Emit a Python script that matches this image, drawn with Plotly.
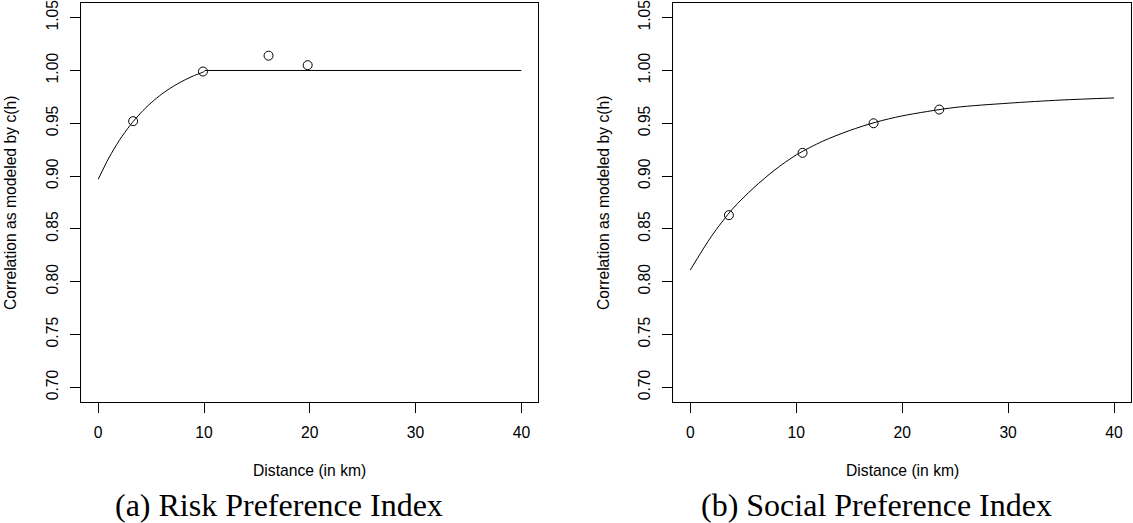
import plotly.graph_objects as go

W, H = 1133, 523

# ---- data ----
risk_curve_x = [0, 1, 2, 3, 4, 5, 6, 7, 8, 9, 10, 10.1]
risk_curve_y = [0.8970, 0.9171, 0.9339, 0.9479, 0.9596, 0.9694, 0.9776, 0.9844, 0.9901, 0.9949, 0.9989, 1.0000]
risk_plateau_x = [10.1, 40]
risk_plateau_y = [1.0, 1.0]
risk_pts_x = [3.3, 9.9, 16.1, 19.8]
risk_pts_y = [0.952, 0.999, 1.014, 1.005]

social_curve_x = [0, 2, 4, 6, 8, 10, 12.5, 15, 17.5, 20, 25, 30, 35, 40]
social_curve_y = [0.811, 0.843, 0.869, 0.889, 0.906, 0.920, 0.933, 0.943, 0.951, 0.957, 0.965, 0.969, 0.972, 0.974]
social_pts_x = [3.65, 10.6, 17.3, 23.5]
social_pts_y = [0.863, 0.922, 0.950, 0.963]

x_ticks = [0, 10, 20, 30, 40]
y_ticks = [0.70, 0.75, 0.80, 0.85, 0.90, 0.95, 1.00, 1.05]
x_title = "Distance (in km)"
y_title = "Correlation as modeled by c(h)"
captions = ["(a) Risk Preference Index", "(b) Social Preference Index"]

SANS = "Liberation Sans, Arial, Helvetica, sans-serif"
SERIF = "Liberation Serif, Times New Roman, serif"
FS = 15.7

fig = go.Figure()

def add_line(x, y, xa, ya, shape):
    fig.add_trace(go.Scatter(x=x, y=y, mode="lines", xaxis=xa, yaxis=ya,
                             line=dict(color="black", width=1, shape=shape, smoothing=0.8),
                             hoverinfo="skip"))

def add_points(x, y, xa, ya):
    fig.add_trace(go.Scatter(x=x, y=y, mode="markers", xaxis=xa, yaxis=ya,
                             marker=dict(symbol="circle-open", size=9, color="black",
                                         line=dict(color="black", width=1))))

add_line(risk_curve_x, risk_curve_y, "x", "y", "spline")
add_line(risk_plateau_x, risk_plateau_y, "x", "y", "linear")
add_points(risk_pts_x, risk_pts_y, "x", "y")
add_line(social_curve_x, social_curve_y, "x2", "y2", "spline")
add_points(social_pts_x, social_pts_y, "x2", "y2")

# pixel geometry of the plot boxes
boxes = [(81.3, 538.3), (673.3, 1131.0)]
top, bottom = 3.3, 402.3
ydom = [1 - bottom / H, 1 - top / H]

def xaxis_cfg(x0, x1):
    return dict(domain=[x0 / W, x1 / W], range=[-1.6, 41.6], tickvals=x_ticks,
                ticks="outside", ticklen=10, tickwidth=1, tickcolor="black",
                showline=True, mirror=True, linecolor="black", linewidth=1,
                showgrid=False, zeroline=False, ticklabelstandoff=6,
                ticklabeloverflow="allow", automargin=False,
                tickfont=dict(family=SANS, size=FS, color="black"))

def yaxis_cfg():
    return dict(domain=ydom, range=[0.6858, 1.0636], tickvals=y_ticks, tickformat=".2f",
                tickangle=-90, ticks="outside", ticklen=10, tickwidth=1, tickcolor="black",
                showline=True, mirror=True, linecolor="black", linewidth=1,
                showgrid=False, zeroline=False, ticklabelstandoff=6,
                ticklabeloverflow="allow", automargin=False,
                tickfont=dict(family=SANS, size=FS, color="black"))

fig.update_layout(
    width=W, height=H, margin=dict(l=0, r=0, t=0, b=0),
    paper_bgcolor="white", plot_bgcolor="white", showlegend=False,
    xaxis=dict(xaxis_cfg(*boxes[0]), anchor="y"), yaxis=dict(yaxis_cfg(), anchor="x"),
    xaxis2=dict(xaxis_cfg(*boxes[1]), anchor="y2"), yaxis2=dict(yaxis_cfg(), anchor="x2"),
)

ann = []
cap_x = [279, 876]
for i, (x0, x1) in enumerate(boxes):
    ann.append(dict(text=x_title, x=(x0 + x1) / 2 / W, y=1 - 470.7 / H, xref="paper", yref="paper",
                    xanchor="center", yanchor="middle", showarrow=False,
                    font=dict(family=SANS, size=FS, color="black")))
    ann.append(dict(text=y_title, x=(x0 - 70) / W, y=1 - (top + bottom) / 2 / H, xref="paper", yref="paper",
                    xanchor="center", yanchor="middle", textangle=-90, showarrow=False,
                    font=dict(family=SANS, size=FS, color="black")))
    ann.append(dict(text=captions[i], x=cap_x[i] / W, y=1 - 505 / H, xref="paper", yref="paper",
                    xanchor="center", yanchor="middle", showarrow=False,
                    font=dict(family=SERIF, size=32, color="black")))
fig.update_layout(annotations=ann)

fig.write_html("out.html", config={"displayModeBar": False, "staticPlot": True},
               post_script="document.body.style.margin='0';document.body.style.padding='0';document.body.style.overflow='hidden';")
